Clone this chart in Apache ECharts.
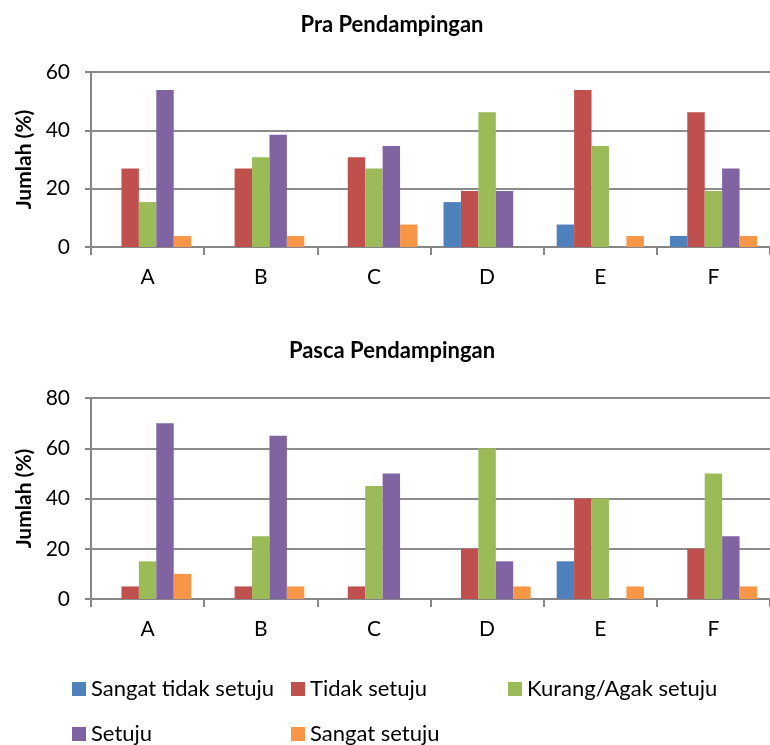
<!DOCTYPE html>
<html><head><meta charset="utf-8">
<script src="https://cdn.jsdelivr.net/npm/echarts@6/dist/echarts.min.js"></script>
<style>html,body{margin:0;padding:0;background:#fff}#c{width:770px;height:745px}</style>
</head><body><div id="c"></div>
<script>
const categories = ['A','B','C','D','E','F'];
const seriesNames = ['Sangat tidak setuju','Tidak setuju','Kurang/Agak setuju','Setuju','Sangat setuju'];
const colors = ['#4F81BD','#C0504D','#9BBB59','#8064A2','#F79646'];
// Pra Pendampingan (per category: A..F)
const praSangatTidak = [0, 0, 0, 15.4, 7.7, 3.8];
const praTidak       = [26.9, 26.9, 30.8, 19.2, 53.8, 46.2];
const praKurang      = [15.4, 30.8, 26.9, 46.2, 34.6, 19.2];
const praSetuju      = [53.8, 38.5, 34.6, 19.2, 0, 26.9];
const praSangat      = [3.8, 3.8, 7.7, 0, 3.8, 3.8];
// Pasca Pendampingan
const pascaSangatTidak = [0, 0, 0, 0, 15, 0];
const pascaTidak       = [5, 5, 5, 20, 40, 20];
const pascaKurang      = [15, 25, 45, 60, 40, 50];
const pascaSetuju      = [70, 65, 50, 15, 0, 25];
const pascaSangat      = [10, 5, 0, 5, 5, 5];
const titles = ['Pra Pendampingan','Pasca Pendampingan'];
const yAxisName = 'Jumlah (%)';

const pra = [praSangatTidak, praTidak, praKurang, praSetuju, praSangat];
const pasca = [pascaSangatTidak, pascaTidak, pascaKurang, pascaSetuju, pascaSangat];

const FONT = 'Lato';
const gridColor = '#8c8c8c';
function xAxis(i){
  return {gridIndex:i, type:'category', data:categories,
    axisLine:{lineStyle:{color:'#868686', width:2}},
    axisTick:{show:true, length:8, lineStyle:{color:'#868686', width:2}},
    axisLabel:{color:'#000', fontFamily:FONT, fontSize:21, margin:20}};
}
function yAxis(i, max){
  return {gridIndex:i, type:'value', min:0, max:max, interval:20,
    name:yAxisName, nameLocation:'middle', nameGap:56,
    nameTextStyle:{color:'#000', fontFamily:FONT, fontSize:21, fontWeight:'bold'},
    axisLine:{show:true, lineStyle:{color:'#868686', width:2}},
    axisTick:{show:true, length:6, lineStyle:{color:'#868686', width:2}},
    splitLine:{lineStyle:{color:gridColor, width:2}},
    axisLabel:{color:'#000', fontFamily:FONT, fontSize:21, margin:21}};
}
const series = [];
[pra, pasca].forEach((set, gi) => {
  set.forEach((vals, si) => {
    series.push({type:'bar', name:seriesNames[si], xAxisIndex:gi, yAxisIndex:gi,
      data:vals, barGap:'0%', barCategoryGap:'23%',
      itemStyle:{color:colors[si]},
      emphasis:{disabled:true}});
  });
});
const legendPos = [[72,678],[291,678],[508,678],[72,723],[291,723]];
const legends = seriesNames.map((n,i)=>({data:[n], left:legendPos[i][0], top:legendPos[i][1],
  padding:0, icon:'rect', itemWidth:14, itemHeight:14, itemGap:5,
  itemStyle:{borderWidth:0},
  textStyle:{color:'#000', fontFamily:FONT, fontSize:22}, selectedMode:false}));

const chart = echarts.init(document.getElementById('c'), null, {renderer:'canvas'});
chart.setOption({
  animation:false,
  color:colors,
  title:[
    {text:titles[0], left:392, textAlign:'center', top:14, padding:0, textStyle:{fontFamily:FONT, fontSize:22, fontWeight:'bold', color:'#000'}},
    {text:titles[1], left:392, textAlign:'center', top:340, padding:0, textStyle:{fontFamily:FONT, fontSize:22, fontWeight:'bold', color:'#000'}}
  ],
  legend:legends,
  grid:[
    {left:91, right:-7, top:72, height:175},
    {left:91, right:-7, top:398, height:201}
  ],
  xAxis:[xAxis(0), xAxis(1)],
  yAxis:[yAxis(0,60), yAxis(1,80)],
  series:series
});
</script></body></html>
